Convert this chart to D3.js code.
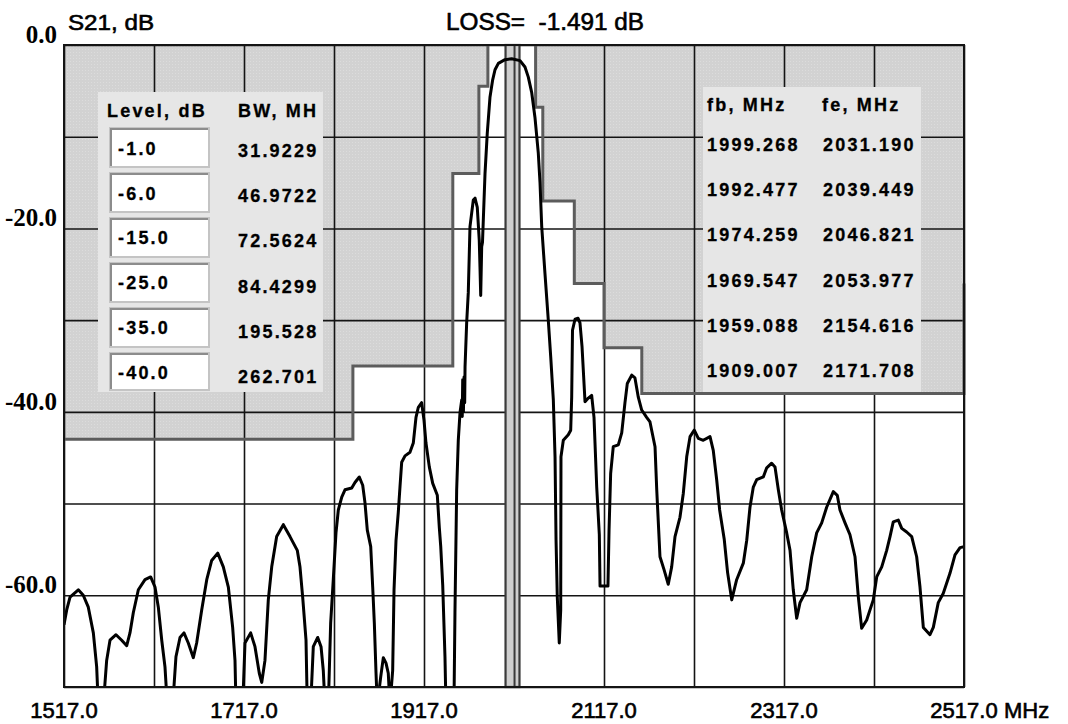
<!DOCTYPE html>
<html>
<head>
<meta charset="utf-8">
<script src="https://cdn.jsdelivr.net/npm/d3@7"></script>
<style>
  body { margin: 0; background: #fff; }
  svg { display: block; }
  .ylab { font-family: "Liberation Serif", "Times New Roman", serif; font-size: 25px; font-weight: bold; }
  .xlab { font-family: "Liberation Sans", Arial, sans-serif; font-size: 22px; stroke: #000; stroke-width: 0.6px; white-space: pre; }
  .tbl { font-family: "Liberation Sans", Arial, sans-serif; font-size: 18px; font-weight: bold; letter-spacing: 2.2px; stroke: #000; stroke-width: 0.3px; }
</style>
</head>
<body>
<div id="chart"></div>
<script>
// chart values
let freq = [1517, 1520, 1523.7, 1532.9, 1538.4, 1544, 1549.6, 1553.3, 1555.1, 1560.7, 1564.4, 1568.1, 1574.8, 1581.1,
  1586.7, 1590.3, 1594, 1599.6, 1607, 1613.3, 1618.1, 1621.8, 1625.6, 1629.2, 1631.8, 1637.8, 1641.4, 1645.9, 1650.3,
  1655.1, 1660.7, 1664.4, 1670, 1675.6, 1681.1, 1687.8, 1694, 1699.6, 1704.4, 1707, 1708.1, 1715.6, 1718.1, 1724.4,
  1729.2, 1734, 1736.7, 1740.3, 1744, 1747.8, 1753.3, 1760.7, 1768.1, 1776.2, 1779.2, 1782.2, 1785.9, 1787.3, 1791.1,
  1794, 1798.9, 1802.6, 1805.1, 1807, 1810.7, 1813.3, 1816.2, 1819.2, 1821.8, 1825.6, 1829.2, 1836.7, 1840.3, 1845.1,
  1848.9, 1851.4, 1854, 1857.8, 1860, 1861.8, 1863.7, 1865.1, 1868.9, 1871.8, 1874.8, 1877.3, 1879.2, 1882.2, 1883.7,
  1885.9, 1888.4, 1890.3, 1892.2, 1895.9, 1901.4, 1905.1, 1908.1, 1910.7, 1914.4, 1917, 1919.2, 1922.9, 1926.7, 1931.8,
  1934, 1935.6, 1937.8, 1940.3, 1941.4, 1950.3, 1951.4, 1953.3, 1955.1, 1957, 1958.9, 1959.5, 1960, 1960.8, 1961.5,
  1962.2, 1962.6, 1964.4, 1966.2, 1968.1, 1970, 1971.8, 1973.7, 1976.2, 1978.4, 1979.2, 1980, 1981.1, 1982, 1984.8,
  1987.3, 1990.3, 1993.3, 1995.9, 1999.6, 2007, 2014.4, 2023.7, 2029.2, 2032.9, 2036.7, 2040.3, 2044, 2045.9, 2047.8,
  2051.4, 2055.1, 2057.8, 2060.7, 2062.6, 2063.7, 2065.1, 2067.3, 2068.9, 2069.2, 2071.8, 2077.3, 2080, 2081.1, 2082,
  2084.8, 2088.2, 2090.3, 2092.6, 2095.9, 2099.6, 2103.3, 2105.9, 2108.9, 2111.8, 2112.6, 2121.4, 2122.6, 2124.4,
  2127.3, 2132.9, 2136.7, 2140.3, 2142.9, 2147.8, 2151.4, 2155.1, 2158.9, 2164.4, 2168.1, 2173.7, 2175.6, 2179.2,
  2183.7, 2188.4, 2192.2, 2195.9, 2201.4, 2205.1, 2208.9, 2212.6, 2217.3, 2221.8, 2227.3, 2234.8, 2238.4, 2242.2,
  2245.5, 2250.6, 2254.3, 2258.9, 2264.4, 2271.8, 2275.6, 2279.2, 2282.9, 2286.7, 2294, 2297.8, 2303.3, 2307, 2310.7,
  2314.4, 2320, 2323.7, 2327.3, 2331.1, 2334.8, 2342.2, 2347.8, 2353.3, 2358.9, 2364.4, 2371.8, 2376.2, 2379.2,
  2384.8, 2390.3, 2395.9, 2399.6, 2403.3, 2408.9, 2416.2, 2420, 2425.6, 2431.1, 2434.8, 2438.4, 2444, 2447.8, 2453.3,
  2458.9, 2464.4, 2468.1, 2471.8, 2479.2, 2482.9, 2488.4, 2493.9, 2501.4, 2507, 2512.6, 2517];
let s21 = [-63.2, -61.6, -60.2, -59.4, -60.0, -61.3, -64.1, -67.8, -72, -72, -67.1, -64.9, -64.3, -64.9,
  -65.5, -64.1, -61.9, -59.4, -58.3, -58.0, -59.1, -61.3, -64.9, -67.8, -72, -72, -66.7, -64.6, -64.1,
  -65.2, -66.8, -65.2, -61.6, -58.3, -56.2, -55.4, -56.9, -59.1, -63.5, -67.1, -72, -72, -65.2, -64.1,
  -65.6, -68.5, -69.5, -67.1, -60.5, -56.9, -53.6, -52.3, -53.6, -55.1, -56.9, -60.2, -64.9, -72, -72,
  -65.6, -64.6, -65.6, -68.2, -72, -72, -63.0, -58.3, -53.2, -50.7, -49.3, -48.5, -48.3, -47.7, -47.1,
  -48.0, -49.9, -52.9, -54.7, -59.1, -63.0, -68.5, -72, -68.9, -66.8, -67.4, -68.5, -72, -68.2, -59.4,
  -54.0, -51.0, -48.2, -45.5, -44.8, -44.4, -43.4, -40.6, -39.5, -39.0, -40.9, -43.4, -46.0, -47.8, -49.1,
  -52.6, -54.7, -58.9, -66.7, -72, -72, -61.9, -48.5, -43.1, -40.1, -38.7, -40.5, -36.5, -40.0, -36.2,
  -39.0, -35.1, -30.3, -27.0, -19.8, -18.3, -16.9, -16.7, -17.7, -21.3, -24.2, -27.3, -22.0, -21.5, -14.0,
  -9.6, -5.7, -3.8, -2.7, -2.0, -1.6, -1.49, -1.7, -2.4, -3.5, -5.2, -7.9, -11.8, -15.0, -19.8,
  -24.9, -30.0, -34.0, -38.7, -44.9, -53.9, -60.2, -65.2, -61.6, -44.9, -43.1, -42.5, -42.0, -38.4, -31.1,
  -29.9, -29.8, -30.3, -32.9, -38.9, -38.5, -38.2, -40.6, -48.2, -53.4, -59.0, -59.0, -52.9, -46.7,
  -43.8, -43.6, -42.3, -39.0, -36.9, -36.0, -36.3, -38.4, -39.8, -40.6, -41.1, -43.8, -48.5, -55.8,
  -57.2, -58.8, -56.9, -53.6, -51.5, -48.9, -44.9, -42.7, -42.0, -42.9, -43.1, -42.7, -44.2, -47.4,
  -50.7, -53.9, -57.5, -60.5, -58.3, -56.5, -54.0, -50.4, -48.2, -47.4, -47.1, -46.1, -45.6, -46.0, -48.5,
  -50.7, -53.2, -55.1, -59.4, -62.5, -60.8, -59.4, -55.8, -53.2, -52.1, -50.4, -48.7, -49.1, -50.7,
  -52.1, -53.4, -55.8, -60.2, -63.6, -62.7, -60.5, -58.0, -56.9, -55.1, -53.6, -52.0, -51.8, -52.7, -53.1,
  -53.6, -55.8, -59.1, -63.5, -64.3, -63.5, -60.8, -59.8, -57.6, -55.6, -54.8, -54.7];

// stepped mask: edges in MHz, one level (dB) per step
let maskLeftEdges = [1517, 1838, 1949, 1978, 1988];
let maskLeftLevels = [-43, -35, -14, -4.5];
let maskRightEdges = [2041, 2049, 2084, 2117, 2159, 2517];
let maskRightLevels = [-6.8, -17, -26, -33, -38];

// marker band (MHz)
let markerBand = [2007.6, 2023.1];
let markerCenter = 2017.6;

let xGrid = d3.range(1517, 2518, 100);
let yGrid = d3.range(0, -71, -10);
let xLabels = [1517, 1717, 1917, 2117, 2317, 2517];
let yLabels = [0, -20, -40, -60];

let levelHead = "Level, dB";
let bwHead = "BW, MH";
let levels = ["-1.0", "-6.0", "-15.0", "-25.0", "-35.0", "-40.0"];
let bw = ["31.9229", "46.9722", "72.5624", "84.4299", "195.528", "262.701"];
let fbHead = "fb, MHz";
let feHead = "fe, MHz";
let fb = ["1999.268", "1992.477", "1974.259", "1969.547", "1959.088", "1909.007"];
let fe = ["2031.190", "2039.449", "2046.821", "2053.977", "2154.616", "2171.708"];
let lossText = "LOSS=  -1.491 dB";

let width = 1068;
let height = 724;
let pLeft = 64, pRight = 964, pTop = 45, pBottom = 687;

let svg = d3.select("#chart").append("svg")
  .attr("width", width)
  .attr("height", height);

let xScale = d3.scaleLinear().domain([1517, 2517]).range([pLeft, pRight]);
let yScale = d3.scaleLinear().domain([0, -70]).range([pTop, pBottom]);

// texture for the gray mask
let defs = svg.append("defs");
let pat = defs.append("pattern")
  .attr("id", "dots")
  .attr("width", 3).attr("height", 3)
  .attr("patternUnits", "userSpaceOnUse");
pat.append("rect").attr("width", 3).attr("height", 3).attr("fill", "#d2d2d2");
pat.append("rect").attr("x", 1).attr("y", 1).attr("width", 1).attr("height", 1).attr("fill", "#dcdcdc");

defs.append("clipPath").attr("id", "plotClip")
  .append("rect")
  .attr("x", pLeft).attr("y", pTop)
  .attr("width", pRight - pLeft).attr("height", pBottom - pTop);

// build step outline points for one side of the mask
function stepPoints(edges, lvls) {
  let pts = [];
  for (let i = 0; i < lvls.length; i++) {
    pts.push([edges[i], lvls[i]]);
    pts.push([edges[i + 1], lvls[i]]);
  }
  return pts;
}
let leftSteps = stepPoints(maskLeftEdges, maskLeftLevels);
let rightSteps = stepPoints(maskRightEdges, maskRightLevels);

let line = d3.line()
  .x(function (d) { return xScale(d[0]); })
  .y(function (d) { return yScale(d[1]); });

// mask fills
let leftPoly = [[maskLeftEdges[0], 0]].concat(leftSteps).concat([[maskLeftEdges[maskLeftEdges.length - 1], 0]]);
let rightPoly = [[maskRightEdges[0], 0]].concat(rightSteps).concat([[maskRightEdges[maskRightEdges.length - 1], 0]]);
svg.append("path").attr("d", line(leftPoly) + "Z").attr("fill", "url(#dots)");
svg.append("path").attr("d", line(rightPoly) + "Z").attr("fill", "url(#dots)");

// grid lines through the axes
svg.append("g")
  .attr("class", "xGrid")
  .attr("transform", "translate(0," + pBottom + ")")
  .call(d3.axisBottom(xScale).tickValues(xGrid).tickSize(-(pBottom - pTop)).tickFormat(""))
  .call(function (g) {
    g.select(".domain").remove();
    g.selectAll("line").attr("stroke", "#141414").attr("stroke-width", 1.6);
  });
svg.append("g")
  .attr("class", "yGrid")
  .attr("transform", "translate(" + pLeft + ",0)")
  .call(d3.axisLeft(yScale).tickValues(yGrid).tickSize(-(pRight - pLeft)).tickFormat(""))
  .call(function (g) {
    g.select(".domain").remove();
    g.selectAll("line").attr("stroke", "#141414").attr("stroke-width", 1.6);
  });

// mask outlines
let maskStroke = "#5c5c5c";
svg.append("path")
  .attr("d", line(leftSteps.concat([[maskLeftEdges[maskLeftEdges.length - 1], 0]])))
  .attr("fill", "none").attr("stroke", maskStroke).attr("stroke-width", 3);
svg.append("path")
  .attr("d", line([[maskRightEdges[0], 0]].concat(rightSteps).concat([[maskRightEdges[maskRightEdges.length - 1], -26]])))
  .attr("fill", "none").attr("stroke", maskStroke).attr("stroke-width", 3);

// marker band
svg.append("rect")
  .attr("x", xScale(markerBand[0]))
  .attr("y", pTop)
  .attr("width", xScale(markerBand[1]) - xScale(markerBand[0]))
  .attr("height", pBottom - pTop)
  .attr("fill", "#cfcfcf")
  .attr("stroke", "#3a3a3a")
  .attr("stroke-width", 2.2);
svg.append("line")
  .attr("x1", xScale(markerCenter)).attr("x2", xScale(markerCenter))
  .attr("y1", pTop).attr("y2", pBottom)
  .attr("stroke", "#3a3a3a").attr("stroke-width", 2);

// S21 trace
let trace = freq.map(function (f, i) { return [f, s21[i]]; });
svg.append("path")
  .attr("clip-path", "url(#plotClip)")
  .attr("d", line(trace))
  .attr("fill", "none")
  .attr("stroke", "#000")
  .attr("stroke-width", 3)
  .attr("stroke-linejoin", "round");

// plot border
svg.append("rect")
  .attr("x", pLeft).attr("y", pTop)
  .attr("width", pRight - pLeft).attr("height", pBottom - pTop)
  .attr("fill", "none").attr("stroke", "#141414").attr("stroke-width", 2);

// left table panel
svg.append("rect").attr("x", 98).attr("y", 92).attr("width", 225).attr("height", 300).attr("fill", "#e6e6e6");
svg.append("text").attr("class", "tbl").attr("x", 107).attr("y", 117).text(levelHead);
svg.append("text").attr("class", "tbl").attr("x", 238).attr("y", 117).text(bwHead);
levels.forEach(function (lv, i) {
  let by = 128 + i * 45;
  let bh = i === levels.length - 1 ? 37 : 39;
  svg.append("rect").attr("x", 110).attr("y", by).attr("width", 99).attr("height", bh)
    .attr("fill", "#fff").attr("stroke", "#c4c4c4").attr("stroke-width", 2);
  svg.append("path")
    .attr("d", "M111," + (by + bh - 1) + "V" + (by + 1) + "H208")
    .attr("fill", "none").attr("stroke", "#8c8c8c").attr("stroke-width", 2);
  svg.append("text").attr("class", "tbl").attr("x", 118).attr("y", 155 + i * 44.7).text(lv);
  svg.append("text").attr("class", "tbl").attr("x", 238).attr("y", 157 + i * 45.2).text(bw[i]);
});

// right table panel
svg.append("rect").attr("x", 703).attr("y", 87).attr("width", 218).attr("height", 305).attr("fill", "#e6e6e6");
svg.append("text").attr("class", "tbl").attr("x", 707).attr("y", 111).text(fbHead);
svg.append("text").attr("class", "tbl").attr("x", 822).attr("y", 111).text(feHead);
fb.forEach(function (v, i) {
  svg.append("text").attr("class", "tbl").attr("x", 707).attr("y", 151 + i * 45.2).text(v);
  svg.append("text").attr("class", "tbl").attr("x", 823).attr("y", 151 + i * 45.2).text(fe[i]);
});

// axis labels
svg.selectAll(".ylab").data(yLabels).enter().append("text")
  .attr("class", "ylab")
  .attr("x", 57)
  .attr("y", function (d) { return yScale(d) - 2; })
  .attr("text-anchor", "end")
  .text(function (d) { return d.toFixed(1); });

svg.selectAll(".xlab").data(xLabels).enter().append("text")
  .attr("class", "xlab")
  .attr("x", function (d) { return xScale(d); })
  .attr("y", 718)
  .attr("text-anchor", "middle")
  .text(function (d) { return d.toFixed(1); });
svg.append("text").attr("class", "xlab").attr("x", 1004).attr("y", 718).text("MHz");

svg.append("text").attr("class", "xlab").attr("x", 68).attr("y", 30)
  .attr("textLength", 86).attr("lengthAdjust", "spacingAndGlyphs").text("S21, dB");
svg.append("text").attr("class", "xlab").attr("x", 446).attr("y", 30)
  .style("font-size", "23px")
  .attr("textLength", 198).attr("lengthAdjust", "spacingAndGlyphs").text(lossText);
</script>
</body>
</html>
